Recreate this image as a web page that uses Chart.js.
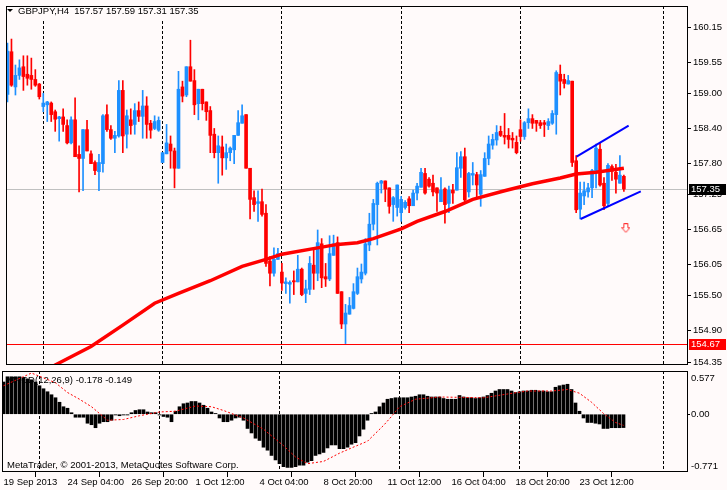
<!DOCTYPE html>
<html><head><meta charset="utf-8">
<script src="https://cdn.jsdelivr.net/npm/chart.js@4.4.1/dist/chart.umd.min.js"></script>
<style>
html,body{margin:0;padding:0;background:#FFFAFA;}
#wrap{position:relative;width:727px;height:490px;overflow:hidden;background:#FFFAFA;}
canvas{position:absolute;left:0;}
#c1{top:0;} #c2{top:371px;}
</style></head><body>
<div id="wrap"><canvas id="c1" width="727" height="371"></canvas><canvas id="c2" width="727" height="119"></canvas></div>
<script>
const symbolTitle = 'GBPJPY,H4';
const lastOHLC = [157.57, 157.59, 157.31, 157.35];
const opens = [158.99,159.73,159.12,159.32,159.47,159.34,159.32,159.25,159.17,158.78,158.81,158.84,158.69,158.57,158.60,158.45,158.15,158.55,157.95,157.88,158.38,157.96,157.81,157.65,157.79,158.64,158.38,158.23,158.27,159.06,158.30,158.55,158.47,158.71,158.61,158.79,158.49,158.40,158.37,157.81,157.96,158.13,158.01,157.71,159.12,158.98,159.47,159.23,158.83,159.08,158.86,158.71,158.30,157.98,158.08,157.89,157.98,158.03,158.28,158.49,158.64,157.71,157.20,157.10,157.13,156.93,156.10,155.89,156.13,155.91,155.71,155.70,155.76,155.74,155.96,155.54,155.61,156.03,155.89,156.40,155.83,155.79,156.20,156.42,155.57,155.01,155.18,155.28,155.54,155.79,155.89,156.38,156.74,157.08,157.45,157.49,157.37,157.08,157.03,156.94,157.03,157.18,157.06,157.28,157.38,157.62,157.52,157.45,157.37,157.13,157.35,157.10,157.33,157.33,157.71,157.91,157.30,157.59,157.60,157.26,157.57,157.88,158.11,158.20,158.35,158.28,158.28,158.23,158.16,158.38,158.26,158.50,158.57,158.54,158.50,158.50,158.45,158.49,158.64,159.34,159.25,159.17,159.22,157.84,157.00,157.23,157.30,157.37,157.64,158.04,157.45,157.10,157.74,157.64,157.45,157.57];
const highs = [159.88,159.95,159.50,159.59,159.66,159.66,159.62,159.42,159.18,159.01,158.87,158.86,158.72,158.61,158.74,158.55,158.60,158.93,158.10,158.38,158.54,158.01,157.84,157.95,158.64,158.81,158.45,158.35,159.23,159.23,158.72,158.74,158.83,158.86,159.06,158.95,158.54,158.62,158.60,157.98,158.47,158.27,158.06,159.39,159.22,159.47,159.93,159.42,159.08,159.08,158.86,158.78,158.40,158.27,158.27,158.13,158.08,158.28,158.71,158.81,158.64,157.71,157.32,157.32,157.35,157.08,156.18,156.33,156.32,156.06,155.81,155.76,155.93,156.20,155.98,155.77,156.18,156.30,156.64,156.49,156.06,156.54,156.55,156.52,155.57,155.35,155.47,155.71,155.98,156.05,156.49,156.93,157.17,157.47,157.50,157.49,157.37,157.22,157.42,157.22,157.15,157.22,157.33,157.45,157.71,157.71,157.55,157.59,157.37,157.55,157.37,157.40,157.43,157.98,158.00,158.06,157.64,157.81,157.64,157.67,157.98,158.27,158.30,158.45,158.44,158.66,158.40,158.33,158.27,158.55,158.52,158.74,158.64,158.54,158.54,158.54,158.57,158.71,159.40,159.50,159.34,159.32,159.22,157.93,157.47,157.47,157.45,157.69,158.13,158.14,157.55,157.79,157.77,157.78,157.93,157.59];
const lows = [158.86,159.13,158.98,159.25,159.06,159.15,159.08,159.13,158.91,158.69,158.52,158.52,158.35,158.18,158.35,158.13,158.13,157.91,157.30,157.32,158.01,157.79,157.60,157.32,157.64,158.35,158.21,157.98,158.25,157.98,158.06,158.30,158.30,158.52,158.23,158.23,158.23,158.38,158.35,157.81,157.96,157.71,157.37,157.71,158.86,158.95,159.22,158.64,158.55,158.72,158.54,157.98,157.89,157.45,157.59,157.69,157.84,157.79,158.28,158.49,157.71,156.83,156.96,156.79,156.88,156.01,155.67,155.84,156.13,155.59,155.54,155.37,155.52,155.74,155.50,155.38,155.52,155.61,155.76,155.64,155.66,155.76,156.20,155.54,154.93,154.67,155.18,155.27,155.52,155.72,155.86,156.28,156.64,156.38,157.28,157.13,156.93,156.79,156.88,156.79,157.00,156.94,157.06,157.16,157.38,157.26,157.38,157.23,156.96,157.13,156.76,156.94,157.10,157.33,157.55,157.13,157.21,157.42,157.21,157.05,157.57,157.77,158.04,158.11,158.26,158.13,158.06,158.06,157.96,158.18,158.21,158.40,158.40,158.35,158.40,158.26,158.38,158.47,158.30,158.98,159.10,159.17,157.74,156.94,156.83,157.08,157.21,157.20,157.37,157.40,156.99,157.06,157.50,157.28,157.45,157.31];
const closes = [159.74,159.15,159.32,159.45,159.30,159.27,159.25,159.15,158.95,158.84,158.86,158.64,158.56,158.60,158.47,158.15,158.55,157.91,157.88,158.38,158.01,157.79,157.67,157.81,158.62,158.38,158.23,158.28,159.06,158.27,158.62,158.45,158.71,158.61,158.79,158.47,158.37,158.52,158.54,157.98,158.15,158.01,157.71,159.08,158.96,159.47,159.22,158.81,159.08,158.83,158.69,158.28,157.98,158.10,157.89,157.98,158.06,158.28,158.50,158.62,157.71,157.17,157.08,157.13,156.91,156.06,155.89,156.13,156.23,155.72,155.74,155.73,155.74,155.96,155.52,155.62,156.06,155.89,156.42,155.81,155.79,156.23,156.40,155.54,155.01,155.20,155.33,155.57,155.83,155.91,156.40,156.74,157.10,157.45,157.49,157.35,157.05,157.20,157.42,157.17,157.12,157.06,157.28,157.40,157.64,157.28,157.40,157.30,157.28,157.33,157.08,157.33,157.28,157.72,157.91,157.16,157.62,157.62,157.42,157.60,157.88,158.13,158.21,158.33,158.28,158.25,158.21,158.20,157.98,158.26,158.50,158.57,158.49,158.49,158.45,158.47,158.52,158.66,159.37,159.22,159.18,159.23,157.81,156.99,157.28,157.32,157.37,157.67,158.06,157.42,157.06,157.76,157.66,157.52,157.59,157.35];
const maPoints = [[0,153.80],[12,154.30],[21,154.62],[29,154.99],[37,155.37],[43,155.54],[51,155.76],[59,156.01],[65,156.13],[69,156.22],[78,156.33],[83,156.39],[88,156.42],[92,156.49],[99,156.66],[103,156.79],[110,156.96],[117,157.17],[125,157.32],[132,157.44],[139,157.54],[143,157.61],[148,157.64],[155,157.71]];
const upperChannel = [[143.1,157.91],[156.2,158.45]];
const lowerChannel = [[144.1,156.83],[159.25,157.31]];
const arrowPoint = [155.5, 156.67];
const bidPrice = 157.35;
const levelPrice = 154.67;
const priceTicks = [154.35,154.90,155.50,156.05,156.65,157.25,157.80,158.40,159.00,159.55,160.15];
const macdHist = [0.43,0.50,0.50,0.50,0.50,0.49,0.47,0.46,0.43,0.38,0.34,0.30,0.26,0.22,0.16,0.10,0.08,0.02,-0.04,-0.04,-0.04,-0.12,-0.14,-0.18,-0.12,-0.10,-0.10,-0.08,-0.01,-0.02,-0.01,-0.01,0.02,0.05,0.06,0.06,0.03,0.02,0.02,-0.01,-0.03,-0.04,-0.10,0.04,0.10,0.14,0.15,0.17,0.17,0.15,0.12,0.08,0.03,0.01,-0.05,-0.10,-0.10,-0.08,-0.05,-0.04,-0.08,-0.19,-0.25,-0.32,-0.35,-0.44,-0.48,-0.55,-0.61,-0.66,-0.70,-0.71,-0.71,-0.70,-0.68,-0.68,-0.64,-0.62,-0.55,-0.53,-0.51,-0.45,-0.41,-0.41,-0.46,-0.46,-0.44,-0.40,-0.38,-0.29,-0.20,-0.08,0.01,0.03,0.10,0.15,0.20,0.21,0.22,0.22,0.22,0.22,0.23,0.24,0.26,0.26,0.24,0.23,0.23,0.23,0.21,0.20,0.20,0.20,0.25,0.23,0.22,0.22,0.21,0.22,0.23,0.25,0.28,0.31,0.33,0.33,0.33,0.31,0.29,0.30,0.31,0.31,0.32,0.32,0.31,0.31,0.30,0.30,0.36,0.38,0.39,0.40,0.33,0.15,0.04,-0.05,-0.11,-0.11,-0.12,-0.13,-0.19,-0.19,-0.18,-0.18,-0.18,-0.178];
const macdSignal = [[0,0.38],[7,0.55],[13,0.42],[16,0.29],[19,0.20],[22,0.10],[26,-0.08],[30,-0.07],[34,-0.02],[39,0.03],[43,0.04],[48,0.11],[52,0.10],[55,0.05],[60,-0.05],[65,-0.20],[70,-0.42],[73,-0.57],[76,-0.66],[80,-0.63],[84,-0.52],[87,-0.45],[91,-0.36],[95,-0.15],[97,-0.03],[99,0.10],[103,0.20],[109,0.23],[120,0.22],[126,0.27],[131,0.31],[137,0.31],[141,0.33],[144,0.28],[147,0.16],[150,0.01],[153,-0.11],[155,-0.149]];
const macdTitle = 'MACD(12,26,9) -0.178 -0.149';
const macdRange = [-0.771, 0.577];
const copyrightText = 'MetaTrader, \u00A9 2001-2013, MetaQuotes Software Corp.';
const timeTickIdx = [0,16,32,48,64,80,96,112,128,144];
const timeTickLabels = ['19 Sep 2013','24 Sep 04:00','26 Sep 20:00','1 Oct 12:00','4 Oct 04:00','8 Oct 20:00','11 Oct 12:00','16 Oct 04:00','18 Oct 20:00','23 Oct 12:00'];
const weekSeparators = [9,39,69,99,129,165];

const BG = '#FFFAFA', BLUE = '#1E90FF', RED = '#FF0000';
const F = "'Liberation Sans', Arial, sans-serif";
const FS = 9.5;
const X_MIN = -0.375, X_MAX = 171.125;
const Y_MIN = 154.299, Y_MAX = 160.523;

Chart.defaults.font.family = F;
Chart.defaults.font.size = FS;
Chart.defaults.color = '#000';

const idx = opens.map((_, i) => i);
const candleColors = idx.map(i => closes[i] >= opens[i] ? BLUE : RED);

function noPad(a) { a.paddingTop = 0; a.paddingBottom = 0; a.paddingLeft = 0; a.paddingRight = 0; }

function drawWeekLines(chart) {
  const {ctx, chartArea: a, scales: {x}} = chart;
  ctx.save();
  ctx.strokeStyle = '#000'; ctx.lineWidth = 1; ctx.setLineDash([3, 2]);
  weekSeparators.forEach(w => {
    const px = Math.floor(x.getPixelForValue(w)) + 0.5;
    ctx.beginPath(); ctx.moveTo(px, a.top); ctx.lineTo(px, a.bottom); ctx.stroke();
  });
  ctx.restore();
}

const arrowImg = (() => {
  const c = document.createElement('canvas'); c.width = 9; c.height = 10;
  const g = c.getContext('2d');
  g.beginPath();
  g.moveTo(2.5, 0.5); g.lineTo(6.5, 0.5); g.lineTo(6.5, 4.5); g.lineTo(8.5, 4.5);
  g.lineTo(4.5, 9.2); g.lineTo(0.5, 4.5); g.lineTo(2.5, 4.5); g.closePath();
  g.fillStyle = '#FFFFFF'; g.fill();
  g.strokeStyle = '#FF3030'; g.lineWidth = 1; g.stroke();
  return c;
})();

const mainDecor = {
  id: 'mainDecor',
  beforeDraw(chart) {
    const {ctx, chartArea: a, scales: {y}} = chart;
    ctx.save();
    ctx.fillStyle = BG; ctx.fillRect(0, 0, chart.width, chart.height);
    ctx.restore();
    drawWeekLines(chart);
    ctx.save();
    const hl = (p, col) => {
      const py = Math.round(y.getPixelForValue(p)) + 0.5;
      ctx.strokeStyle = col; ctx.lineWidth = 1;
      ctx.beginPath(); ctx.moveTo(a.left, py); ctx.lineTo(a.right, py); ctx.stroke();
    };
    hl(bidPrice, '#C0C0C0');
    hl(levelPrice, RED);
    ctx.restore();
  },
  afterDraw(chart) {
    const {ctx, chartArea: a, scales: {y}} = chart;
    ctx.save();
    ctx.strokeStyle = '#000'; ctx.lineWidth = 1;
    ctx.strokeRect(a.left + 0.5, a.top + 0.5, a.right - a.left - 1, a.bottom - a.top - 1);
    ctx.fillStyle = BG; ctx.fillRect(a.left + 1, a.top + 1, 196, 13);
    ctx.fillStyle = '#000';
    ctx.beginPath(); ctx.moveTo(7, 9); ctx.lineTo(13, 9); ctx.lineTo(10, 12); ctx.closePath(); ctx.fill();
    ctx.font = FS + 'px ' + F; ctx.textBaseline = 'middle'; ctx.textAlign = 'left';
    ctx.fillText(symbolTitle + '  ' + lastOHLC.map(v => v.toFixed(2)).join(' '), 18, 11);
    const tag = (p, bg) => {
      const py = Math.round(y.getPixelForValue(p));
      ctx.fillStyle = bg; ctx.fillRect(a.right + 1, py - 5, 37, 11);
      ctx.fillStyle = '#FFFFFF'; ctx.fillText(p.toFixed(2), a.right + 3, py + 0.5);
    };
    tag(bidPrice, '#000000');
    tag(levelPrice, RED);
    ctx.restore();
  }
};

new Chart(document.getElementById('c1'), {
  type: 'bar',
  data: { datasets: [
    { type: 'line', data: maPoints.map(([x, y]) => ({x, y})), borderColor: RED, borderWidth: 3.5, pointRadius: 0, tension: 0, clip: 0, order: 3 },
    { type: 'line', data: upperChannel.map(([x, y]) => ({x, y})), borderColor: '#0000FF', borderWidth: 2, pointRadius: 0, clip: 0, order: 2 },
    { type: 'line', data: lowerChannel.map(([x, y]) => ({x, y})), borderColor: '#0000FF', borderWidth: 2, pointRadius: 0, clip: 0, order: 2 },
    { type: 'scatter', data: [{x: arrowPoint[0], y: arrowPoint[1]}], pointStyle: arrowImg, pointRadius: 5, order: 1 },
    { type: 'bar', data: idx.map(i => ({x: i, y: [lows[i], highs[i]]})), backgroundColor: candleColors, barThickness: 1, grouped: false, borderWidth: 0, order: 5 },
    { type: 'bar', data: idx.map(i => ({x: i, y: [Math.min(opens[i], closes[i]), Math.max(opens[i], closes[i])]})), backgroundColor: candleColors, barThickness: 3, minBarLength: 1, grouped: false, borderWidth: 0, order: 4 }
  ]},
  options: {
    responsive: false, animation: false, devicePixelRatio: 1, events: [],
    layout: { padding: { left: 2, top: 2, right: 0, bottom: 2 } },
    plugins: { legend: { display: false }, tooltip: { enabled: false } },
    scales: {
      x: { type: 'linear', min: X_MIN, max: X_MAX, display: false, offset: false },
      y: {
        position: 'right', min: Y_MIN, max: Y_MAX,
        afterFit(a) { a.width = 39; noPad(a); },
        afterBuildTicks(a) { a.ticks = priceTicks.map(v => ({value: v})); },
        ticks: { callback: v => Number(v).toFixed(2), color: '#000', padding: 2, autoSkip: false, font: { family: F, size: FS } },
        grid: { drawOnChartArea: false, drawTicks: true, tickLength: 3, color: '#000' },
        border: { display: false }
      }
    }
  },
  plugins: [mainDecor]
});

const macdDecor = {
  id: 'macdDecor',
  beforeDraw(chart) {
    const {ctx} = chart;
    ctx.save(); ctx.fillStyle = BG; ctx.fillRect(0, 0, chart.width, chart.height); ctx.restore();
    drawWeekLines(chart);
  },
  beforeDatasetsDraw(chart) {
    const {ctx, chartArea: a} = chart;
    ctx.save();
    ctx.fillStyle = '#000'; ctx.font = FS + 'px ' + F; ctx.textBaseline = 'middle'; ctx.textAlign = 'left';
    ctx.fillText(macdTitle, 7, a.top + 9);
    ctx.fillText(copyrightText, 7, a.top + 94);
    ctx.restore();
  },
  afterDraw(chart) {
    const {ctx, chartArea: a, scales: {y}} = chart;
    ctx.save();
    ctx.strokeStyle = '#000'; ctx.lineWidth = 1;
    ctx.strokeRect(a.left + 0.5, a.top + 0.5, a.right - a.left - 1, a.bottom - a.top - 1);
    ctx.fillStyle = '#000'; ctx.font = FS + 'px ' + F; ctx.textBaseline = 'middle'; ctx.textAlign = 'left';
    ctx.fillText(y.max.toFixed(3), a.right + 3, a.top + 7);
    ctx.fillText(y.min.toFixed(3), a.right + 3, a.bottom - 6);
    ctx.restore();
  }
};

new Chart(document.getElementById('c2'), {
  type: 'bar',
  data: { datasets: [
    { type: 'line', data: macdSignal.map(([x, y]) => ({x, y})), borderColor: RED, borderWidth: 1, borderDash: [2, 2], pointRadius: 0, tension: 0, clip: 0, order: 1 },
    { type: 'bar', data: macdHist.map((v, i) => ({x: i, y: v})), backgroundColor: '#000', barThickness: 3, grouped: false, borderWidth: 0, order: 2 }
  ]},
  options: {
    responsive: false, animation: false, devicePixelRatio: 1, events: [],
    layout: { padding: { left: 2, top: 0, right: 0, bottom: 0 } },
    plugins: { legend: { display: false }, tooltip: { enabled: false } },
    scales: {
      x: {
        type: 'linear', min: X_MIN, max: X_MAX, offset: false,
        afterFit(a) { a.height = 18; noPad(a); },
        afterBuildTicks(a) { a.ticks = timeTickIdx.map(v => ({value: v})); },
        ticks: { align: 'start', maxRotation: 0, autoSkip: false, padding: 0, color: '#000', font: { family: F, size: FS },
          callback: (v, i) => timeTickLabels[i] },
        grid: { drawOnChartArea: false, drawTicks: true, tickLength: 5, color: '#000' },
        border: { display: false }
      },
      y: {
        position: 'right', min: macdRange[0], max: macdRange[1],
        afterFit(a) { a.width = 39; noPad(a); },
        afterBuildTicks(a) { a.ticks = [{value: 0}]; },
        ticks: { callback: v => Number(v).toFixed(2), color: '#000', padding: 1, font: { family: F, size: FS } },
        grid: { drawOnChartArea: false, drawTicks: true, tickLength: 2, color: '#000' },
        border: { display: false }
      }
    }
  },
  plugins: [macdDecor]
});
</script>
</body></html>
